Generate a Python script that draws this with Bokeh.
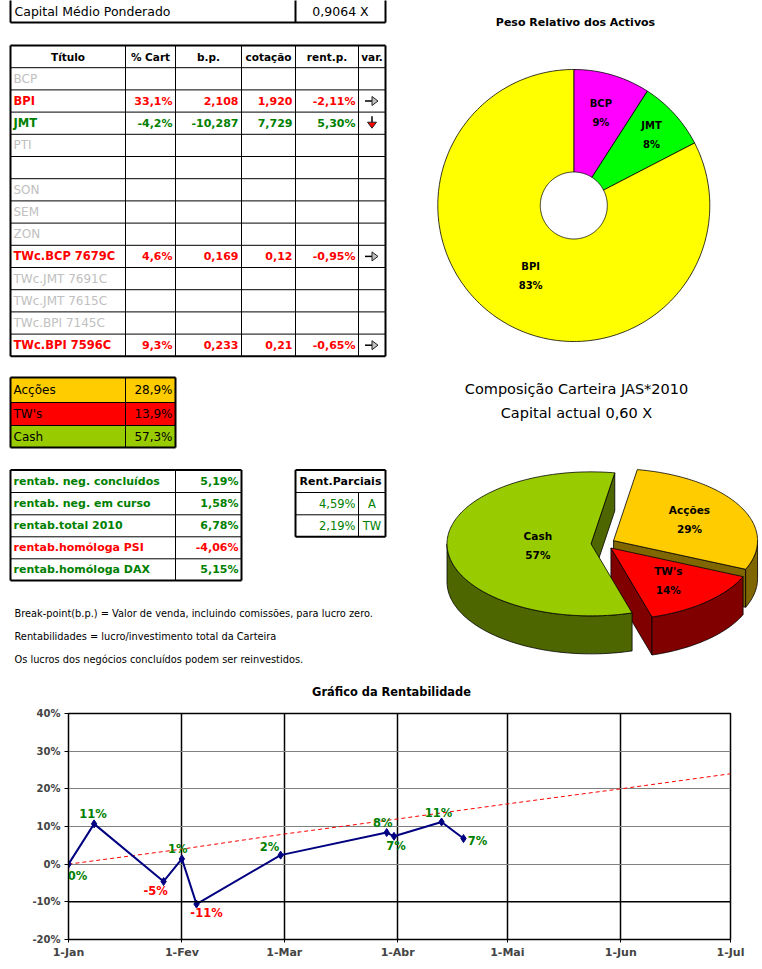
import math
from collections import defaultdict
import pandas as pd
from bokeh.plotting import figure
from bokeh.models import Range1d, FixedTicker, ColumnDataSource, Span
from bokeh.core.properties import value
from bokeh.embed import file_html
from bokeh.resources import INLINE

FONT = "DejaVu Sans"

# ---------------- data ----------------
capital_label = "Capital Médio Ponderado"
capital_value = "0,9064 X"

headers = ["Título", "% Cart", "b.p.", "cotação", "rent.p.", "var."]
titles = ["BCP", "BPI", "JMT", "PTI", "", "SON", "SEM", "ZON",
          "TWc.BCP 7679C", "TWc.JMT 7691C", "TWc.JMT 7615C", "TWc.BPI 7145C", "TWc.BPI 7596C"]
pct_cart = ["", "33,1%", "-4,2%", "", "", "", "", "", "4,6%", "", "", "", "9,3%"]
break_point = ["", "2,108", "-10,287", "", "", "", "", "", "0,169", "", "", "", "0,233"]
cotacao = ["", "1,920", "7,729", "", "", "", "", "", "0,12", "", "", "", "0,21"]
rent_p = [None, -2.11, 5.30, None, None, None, None, None, -0.95, None, None, None, -0.65]
var_dir = ["", "right", "down", "", "", "", "", "", "right", "", "", "", "right"]

comp_labels = ["Acções", "TW's", "Cash"]
comp_values = [28.9, 13.9, 57.3]

rent_labels = ["rentab. neg. concluídos", "rentab. neg. em curso", "rentab.total 2010",
               "rentab.homóloga PSI", "rentab.homóloga DAX"]
rent_values = [5.19, 1.58, 6.78, -4.06, 5.15]

parc_title = "Rent.Parciais"
parc_values = [4.59, 2.19]
parc_labels = ["A", "TW"]

notes = ["Break-point(b.p.) = Valor de venda, incluindo comissões, para lucro zero.",
         "Rentabilidades = lucro/investimento total da Carteira",
         "Os lucros dos negócios concluídos podem ser reinvestidos."]

peso_title = "Peso Relativo dos Activos"
peso_labels = ["BCP", "JMT", "BPI"]
peso_values = [9.1, 8.3, 82.6]

comp_title = ["Composição Carteira JAS*2010", "Capital actual 0,60 X"]

chart_title = "Gráfico da Rentabilidade"
rent_dates = ["2010-01-01", "2010-01-08", "2010-01-27", "2010-02-01", "2010-02-05",
              "2010-02-28", "2010-03-29", "2010-03-31", "2010-04-13", "2010-04-19"]
rent_series = [0.0, 10.7, -4.6, 1.4, -10.6, 2.4, 8.4, 7.4, 11.2, 6.8]
trend_dates = ["2010-01-01", "2010-02-01", "2010-03-01", "2010-04-01",
               "2010-05-01", "2010-06-01", "2010-07-01"]
trend_values = [0, 4, 8, 12, 16, 20, 24]
month_labels = ["1-Jan", "1-Fev", "1-Mar", "1-Abr", "1-Mai", "1-Jun", "1-Jul"]
y_ticks = [-20, -10, 0, 10, 20, 30, 40]
axis_cross = -10

# ---------------- style ----------------
GREEN = "#008000"
RED = "#ff0000"
GRAY = "#c0c0c0"
comp_top = ["#ffcc00", "#ff0000", "#99cc00"]
comp_side = ["#806600", "#800000", "#4d6600"]
peso_colors = ["#ff00ff", "#00ff00", "#ffff00"]

W = 760
TOP_H = 700
BOT_H = 265


def pct(v, d=2):
    return f"{v:.{d}f}".replace(".", ",") + "%"


def r0(v):
    s = -1 if v < 0 else 1
    return s * int(math.floor(abs(v) + 0.5))


# ---------------- top canvas (data units = page pixels) ----------------
p = figure(width=W, height=TOP_H, x_range=Range1d(0, W), y_range=Range1d(TOP_H, 0),
           toolbar_location=None, output_backend="svg",
           x_axis_location=None, y_axis_location=None, min_border=0)
p.grid.visible = False
p.outline_line_color = None

texts = defaultdict(lambda: dict(x=[], y=[], text=[], color=[]))
segs = defaultdict(lambda: dict(x0=[], y0=[], x1=[], y1=[]))


def T(x, y, s, color="black", size=11, style="normal", align="left"):
    g = texts[(size, style, align)]
    g["x"].append(x); g["y"].append(y); g["text"].append(s); g["color"].append(color)


def S(x0, y0, x1, y1, w=1):
    g = segs[w]
    g["x0"].append(x0); g["y0"].append(y0); g["x1"].append(x1); g["y1"].append(y1)


def box(x0, x1, y0, y1, w=2):
    S(x0, y0, x1, y0, w); S(x0, y1, x1, y1, w); S(x0, y0, x0, y1, w); S(x1, y0, x1, y1, w)


# capital box
for xx in (10, 295, 385):
    S(xx, -2, xx, 22, 2)
S(10, 22, 385, 22, 2)
T(14, 11, capital_label, size=12.5)
T(340, 11, capital_value, align="center", size=12.5)

# main table
X = [10, 125, 175, 241, 295, 358, 385]
top, rh = 45, 22.2
Y = [top + i * rh for i in range(len(titles) + 2)]
for yy in Y[1:-1]:
    S(X[0], yy, X[-1], yy, 1)
for xx in X[1:-1]:
    S(xx, Y[0], xx, Y[-1], 1)
box(X[0], X[-1], Y[0], Y[-1], 2)
for i, h in enumerate(headers):
    T((X[i] + X[i + 1]) / 2, (Y[0] + Y[1]) / 2, h, style="bold", align="center", size=10.5)

arrow_patches = dict(xs=[], ys=[], fill=[])
for r, t in enumerate(titles):
    yc = (Y[r + 1] + Y[r + 2]) / 2
    rv = rent_p[r]
    if rv is None:
        T(13, yc, t, GRAY, size=12)
        continue
    col = RED if rv < 0 else GREEN
    T(13, yc, t, col, style="bold", size=11.5)
    vals = [pct_cart[r], break_point[r], cotacao[r], pct(rv)]
    for j, v in enumerate(vals):
        T(X[j + 2] - 3, yc, v, col, style="bold", align="right", size=11)
    ax = (X[5] + X[6]) / 2
    if var_dir[r] == "right":
        S(ax - 7, yc, ax + 1, yc, 1.5)
        arrow_patches["xs"].append([ax, ax + 6, ax])
        arrow_patches["ys"].append([yc - 4.5, yc, yc + 4.5])
        arrow_patches["fill"].append("#c0c0c0")
    elif var_dir[r] == "down":
        S(ax, yc - 7, ax, yc - 1, 1.5)
        arrow_patches["xs"].append([ax - 4.5, ax + 4.5, ax])
        arrow_patches["ys"].append([yc - 1, yc - 1, yc + 5])
        arrow_patches["fill"].append("#ff0000")

# composition table
X2 = [10, 125, 175]
Y2 = [377, 402, 425, 447]
p.quad(left=[X2[0]] * 3, right=[X2[2]] * 3, top=Y2[:-1], bottom=Y2[1:],
       fill_color=comp_top, line_color=None)
for yy in Y2[1:-1]:
    S(X2[0], yy, X2[-1], yy, 1)
S(X2[1], Y2[0], X2[1], Y2[-1], 1)
box(X2[0], X2[-1], Y2[0], Y2[-1], 2)
for i, (lab, v) in enumerate(zip(comp_labels, comp_values)):
    yc = (Y2[i] + Y2[i + 1]) / 2
    T(13, yc, lab, size=12)
    T(X2[2] - 3, yc, pct(v, 1), align="right", size=12)

# rentab table
X3 = [10, 175, 241]
Y3 = [469.5, 492, 514.3, 536.3, 558.3, 580]
for yy in Y3[1:-1]:
    S(X3[0], yy, X3[-1], yy, 1)
S(X3[1], Y3[0], X3[1], Y3[-1], 1)
box(X3[0], X3[-1], Y3[0], Y3[-1], 2)
for i, (lab, v) in enumerate(zip(rent_labels, rent_values)):
    yc = (Y3[i] + Y3[i + 1]) / 2
    col = RED if v < 0 else GREEN
    T(13, yc, lab, col, style="bold", size=11)
    T(X3[2] - 3, yc, pct(v), col, style="bold", align="right", size=11)

# parciais table
X4 = [295, 358, 385]
Y4 = [469.5, 492, 514.3, 536.3]
for yy in Y4[1:-1]:
    S(X4[0], yy, X4[-1], yy, 1)
S(X4[1], Y4[1], X4[1], Y4[-1], 1)
box(X4[0], X4[-1], Y4[0], Y4[-1], 2)
T((X4[0] + X4[2]) / 2, (Y4[0] + Y4[1]) / 2, parc_title, style="bold", align="center", size=11)
for i, (v, lab) in enumerate(zip(parc_values, parc_labels)):
    yc = (Y4[i + 1] + Y4[i + 2]) / 2
    T(X4[1] - 3, yc, pct(v), GREEN, align="right", size=11.5)
    T((X4[1] + X4[2]) / 2, yc, lab, GREEN, align="center", size=11.5)

# notes
for i, n in enumerate(notes):
    T(14, 613 + i * 23, n, size=9.8)

# ---- donut ----
T(575, 22, peso_title, style="bold", size=11, align="center")
dcx, dcy, R, r_in = 573.3, 205, 136, 33.5
lab_r = [96, 105, 83]
pie_xs, pie_ys, pie_fill = [], [], []
a = 90.0
tot = sum(peso_values)
for i, v in enumerate(peso_values):
    span = v / tot * 360
    a0, a1 = a, a - span
    n = max(8, int(span))
    angs = [math.radians(a0 + (a1 - a0) * k / n) for k in range(n + 1)]
    xs = [dcx + R * math.cos(t) for t in angs] + [dcx + r_in * math.cos(t) for t in reversed(angs)]
    ys = [dcy - R * math.sin(t) for t in angs] + [dcy - r_in * math.sin(t) for t in reversed(angs)]
    pie_xs.append(xs); pie_ys.append(ys); pie_fill.append(peso_colors[i])
    mid = math.radians((a0 + a1) / 2)
    lx, ly = dcx + lab_r[i] * math.cos(mid), dcy - lab_r[i] * math.sin(mid)
    T(lx, ly - 9.5, peso_labels[i], style="bold", size=10, align="center")
    T(lx, ly + 9.5, f"{r0(v / tot * 100)}%", style="bold", size=10, align="center")
    a = a1
p.patches(pie_xs, pie_ys, fill_color=pie_fill, line_color="black", line_width=0.8)

# ---- 3D pie ----
T(576, 388, comp_title[0], size=14.5, align="center")
T(576, 412, comp_title[1], size=14.5, align="center")
cx3, cy3, rx3, ry3, depth3, expl = 602.5, 543, 144, 72, 38, 12
lab_f = [0.6, 0.6, 0.37]
tot3 = sum(comp_values)
p3_xs, p3_ys, p3_fill = [], [], []
a = 80.5
for i, v in enumerate(comp_values):
    span = v / tot3 * 360
    a0, a1 = a, a - span
    a = a1
    mid = math.radians((a0 + a1) / 2)
    tx = cx3 + expl * math.cos(mid)
    ty = cy3 - expl * (ry3 / rx3) * math.sin(mid)

    def P(deg, dy=0.0, tx=tx, ty=ty):
        t = math.radians(deg)
        return tx + rx3 * math.cos(t), ty - ry3 * math.sin(t) + dy

    def arc(d0, d1, dy=0.0, P=P):
        n = max(6, int(abs(d1 - d0)))
        return [P(d0 + (d1 - d0) * k / n, dy) for k in range(n + 1)]

    for edge, visible in ((a0, math.cos(math.radians(a0)) < 0), (a1, math.cos(math.radians(a1)) > 0)):
        if visible:
            ex, ey = P(edge)
            p3_xs.append([tx, ex, ex, tx]); p3_ys.append([ty, ey, ey + depth3, ty + depth3])
            p3_fill.append(comp_side[i])
    for k in range(-2, 2):
        lo, hi = max(a1, -180 + 360 * k), min(a0, 360 * k)
        if lo < hi:
            pts = arc(lo, hi) + arc(hi, lo, depth3)
            p3_xs.append([q[0] for q in pts]); p3_ys.append([q[1] for q in pts])
            p3_fill.append(comp_side[i])
    pts = [(tx, ty)] + arc(a0, a1)
    p3_xs.append([q[0] for q in pts]); p3_ys.append([q[1] for q in pts])
    p3_fill.append(comp_top[i])
    lx = tx + lab_f[i] * rx3 * math.cos(mid)
    ly = ty - lab_f[i] * ry3 * math.sin(mid)
    T(lx, ly - 9.5, comp_labels[i], style="bold", size=10.5, align="center")
    T(lx, ly + 9.5, f"{r0(v / tot3 * 100)}%", style="bold", size=10.5, align="center")
p.patches(p3_xs, p3_ys, fill_color=p3_fill, line_color="black", line_width=0.8)

# chart title
T(391, 691, chart_title, style="bold", size=11.4, align="center")

for w, g in segs.items():
    p.segment(x0="x0", y0="y0", x1="x1", y1="y1", line_color="black", line_width=w,
              source=ColumnDataSource(g))
if arrow_patches["xs"]:
    p.patches(arrow_patches["xs"], arrow_patches["ys"], fill_color=arrow_patches["fill"],
              line_color="#202020", line_width=1)
for (size, style, align), g in texts.items():
    p.text(x="x", y="y", text="text", text_color="color", source=ColumnDataSource(g),
           text_font=value(FONT), text_font_size=f"{size}px", text_font_style=style,
           text_align=align, text_baseline="middle")

# ---------------- line chart ----------------
base = pd.Timestamp("2010-01-01")
xd = [(pd.Timestamp(d) - base).days for d in rent_dates]
xt = [(pd.Timestamp(d) - base).days for d in trend_dates]

p2 = figure(width=W, height=BOT_H, x_range=Range1d(0, xt[-1]), y_range=Range1d(y_ticks[0], y_ticks[-1]),
            toolbar_location=None, output_backend="svg",
            min_border_left=68, min_border_right=W - 730, min_border_top=713 - TOP_H,
            min_border_bottom=TOP_H + BOT_H - 939)
p2.outline_line_color = "black"
p2.outline_line_width = 1.5
p2.xaxis.ticker = FixedTicker(ticks=xt)
p2.xaxis.major_label_overrides = {t: lab for t, lab in zip(xt, month_labels)}
p2.yaxis.ticker = FixedTicker(ticks=y_ticks)
p2.yaxis.major_label_overrides = {t: f"{t}%" for t in y_ticks}
p2.xgrid.grid_line_color = "black"
p2.xgrid.grid_line_width = 1.5
p2.ygrid.grid_line_color = "#808080"
p2.ygrid.grid_line_width = 1.2
p2.add_layout(Span(location=axis_cross, dimension="width", line_color="black", line_width=1.5))
for ax in (p2.xaxis, p2.yaxis):
    ax.axis_line_color = "black"
    ax.minor_tick_line_color = None
    ax.major_tick_in = 0
    ax.major_label_text_font = FONT
    ax.major_label_text_font_style = "bold"
p2.xaxis.major_tick_out = 3
p2.xaxis.major_label_standoff = 3
p2.xaxis.major_label_text_font_size = "11px"
p2.yaxis.major_tick_out = 4
p2.yaxis.major_label_standoff = 4
p2.yaxis.major_label_text_font_size = "10px"

p2.line(xt, trend_values, line_color="#ff0000", line_width=1, line_dash="4 3")
p2.line(xd, rent_series, line_color="#000080", line_width=2)
p2.scatter(xd, rent_series, marker="diamond", size=8, fill_color="#000080", line_color="#000080")

lbl_dx = [9, -1, -8, -4, 10, -11, -4, 2, -3, 14]
lbl_dy = [12, -10, 10, -10, 9, -8, -10, 10, -9, 2]
lsrc = ColumnDataSource(dict(x=xd, y=rent_series,
                             text=[f"{r0(v)}%" for v in rent_series],
                             color=[GREEN if v >= 0 else RED for v in rent_series],
                             dx=lbl_dx, dy=lbl_dy))
p2.text(x="x", y="y", text="text", text_color="color", x_offset="dx", y_offset="dy", source=lsrc,
        text_font=value(FONT), text_font_size="11.5px", text_font_style="bold",
        text_align="center", text_baseline="middle")

open("out.html", "w").write(file_html([p, p2], INLINE))
